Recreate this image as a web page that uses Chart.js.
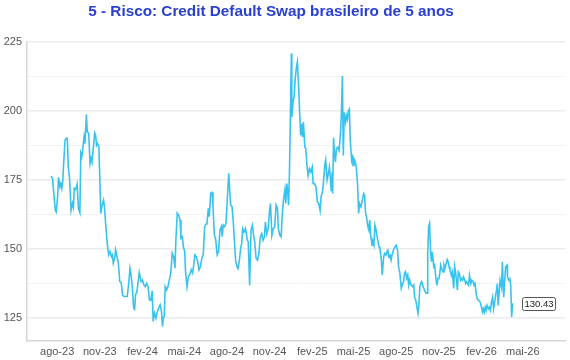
<!DOCTYPE html>
<html><head><meta charset="utf-8">
<script src="https://cdn.jsdelivr.net/npm/chart.js@4.4.1/dist/chart.umd.min.js"></script>
<style>html,body{margin:0;padding:0;background:#fff}#wrap{width:570px;height:360px;position:relative}</style>
</head><body><div id="wrap"><canvas id="c" width="570" height="360"></canvas></div>
<script>
const chartTitle = '5 - Risco: Credit Default Swap brasileiro de 5 anos';

const dates = [
'2023-07-19','2023-07-22','2023-07-28','2023-07-30','2023-08-02','2023-08-04','2023-08-07','2023-08-09','2023-08-11','2023-08-13',
'2023-08-15','2023-08-18','2023-08-21','2023-08-23','2023-08-25','2023-08-28','2023-08-31','2023-09-03','2023-09-05','2023-09-07',
'2023-09-10','2023-09-13','2023-09-16','2023-09-19','2023-09-21','2023-09-23','2023-09-25','2023-09-28','2023-09-30','2023-10-03',
'2023-10-05','2023-10-08','2023-10-11','2023-10-13','2023-10-15','2023-10-19','2023-10-21','2023-10-23','2023-10-25','2023-10-27',
'2023-10-30','2023-11-01','2023-11-03','2023-11-06','2023-11-09','2023-11-11','2023-11-14','2023-11-17','2023-11-20','2023-11-23',
'2023-11-26','2023-11-28','2023-11-30','2023-12-03','2023-12-05','2023-12-08','2023-12-11','2023-12-14','2023-12-17','2023-12-20',
'2023-12-23','2023-12-26','2023-12-30','2024-01-02','2024-01-05','2024-01-07','2024-01-10','2024-01-13','2024-01-15','2024-01-17',
'2024-01-20','2024-01-23','2024-01-25','2024-01-29','2024-02-01','2024-02-04','2024-02-07','2024-02-10','2024-02-13','2024-02-16',
'2024-02-19','2024-02-22','2024-02-24','2024-02-27','2024-03-01','2024-03-04','2024-03-07','2024-03-10','2024-03-13','2024-03-15',
'2024-03-17','2024-03-19','2024-03-21','2024-03-24','2024-03-27','2024-03-30','2024-04-02','2024-04-05','2024-04-08','2024-04-11',
'2024-04-13','2024-04-16','2024-04-19','2024-04-22','2024-04-24','2024-04-27','2024-04-29','2024-05-02','2024-05-04','2024-05-07',
'2024-05-10','2024-05-13','2024-05-16','2024-05-19','2024-05-21','2024-05-24','2024-05-27','2024-05-30','2024-06-02','2024-06-05',
'2024-06-08','2024-06-11','2024-06-14','2024-06-17','2024-06-19','2024-06-22','2024-06-24','2024-06-27','2024-06-30','2024-07-02',
'2024-07-05','2024-07-08','2024-07-11','2024-07-14','2024-07-17','2024-07-20','2024-07-22','2024-07-24','2024-07-27','2024-07-30',
'2024-08-02','2024-08-05','2024-08-06','2024-08-09','2024-08-12','2024-08-15','2024-08-18','2024-08-20','2024-08-23','2024-08-25',
'2024-08-28','2024-08-31','2024-09-02','2024-09-04','2024-09-07','2024-09-10','2024-09-12','2024-09-14','2024-09-16','2024-09-19',
'2024-09-22','2024-09-25','2024-09-28','2024-09-30','2024-10-03','2024-10-06','2024-10-09','2024-10-12','2024-10-15','2024-10-18',
'2024-10-21','2024-10-23','2024-10-26','2024-10-29','2024-11-01','2024-11-03','2024-11-06','2024-11-09','2024-11-12','2024-11-15',
'2024-11-18','2024-11-20','2024-11-23','2024-11-26','2024-11-28','2024-12-01','2024-12-04','2024-12-06','2024-12-08','2024-12-10',
'2024-12-12','2024-12-14','2024-12-16','2024-12-18','2024-12-19','2024-12-22','2024-12-24','2024-12-26','2024-12-29','2024-12-31',
'2025-01-03','2025-01-05','2025-01-07','2025-01-09','2025-01-11','2025-01-13','2025-01-16','2025-01-18','2025-01-21','2025-01-23',
'2025-01-26','2025-01-29','2025-02-01','2025-02-03','2025-02-06','2025-02-09','2025-02-12','2025-02-15','2025-02-18','2025-02-20',
'2025-02-23','2025-02-25','2025-02-28','2025-03-02','2025-03-05','2025-03-07','2025-03-10','2025-03-12','2025-03-14','2025-03-16',
'2025-03-17','2025-03-19','2025-03-21','2025-03-23','2025-03-25','2025-03-28','2025-03-31','2025-04-03','2025-04-05','2025-04-07',
'2025-04-09','2025-04-11','2025-04-14','2025-04-16','2025-04-18','2025-04-20','2025-04-22','2025-04-24','2025-04-27','2025-04-29',
'2025-04-30','2025-05-02','2025-05-04','2025-05-07','2025-05-10','2025-05-12','2025-05-14','2025-05-17','2025-05-20','2025-05-23',
'2025-05-25','2025-05-27','2025-05-29','2025-06-01','2025-06-03','2025-06-05','2025-06-07','2025-06-10','2025-06-12','2025-06-14',
'2025-06-16','2025-06-18','2025-06-21','2025-06-23','2025-06-25','2025-06-27','2025-06-30','2025-07-02','2025-07-05','2025-07-07',
'2025-07-10','2025-07-12','2025-07-14','2025-07-16','2025-07-19','2025-07-21','2025-07-23','2025-07-26','2025-07-29','2025-08-01',
'2025-08-04','2025-08-06','2025-08-09','2025-08-12','2025-08-15','2025-08-17','2025-08-19','2025-08-21','2025-08-24','2025-08-26',
'2025-08-28','2025-08-30','2025-09-02','2025-09-05','2025-09-08','2025-09-10','2025-09-12','2025-09-14','2025-09-17','2025-09-19',
'2025-09-21','2025-09-23','2025-09-25','2025-09-28','2025-10-01','2025-10-04','2025-10-07','2025-10-08','2025-10-10','2025-10-12',
'2025-10-14','2025-10-16','2025-10-18','2025-10-21','2025-10-23','2025-10-26','2025-10-28','2025-10-30','2025-11-01','2025-11-03',
'2025-11-05','2025-11-07','2025-11-10','2025-11-12','2025-11-14','2025-11-16','2025-11-19','2025-11-21','2025-11-23','2025-11-25',
'2025-11-28','2025-11-30','2025-12-03','2025-12-05','2025-12-07','2025-12-09','2025-12-11','2025-12-13','2025-12-15','2025-12-18',
'2025-12-20','2025-12-22','2025-12-24','2025-12-27','2025-12-29','2025-12-31','2026-01-02','2026-01-04','2026-01-06','2026-01-09',
'2026-01-11','2026-01-14','2026-01-16','2026-01-18','2026-01-21','2026-01-23','2026-01-26','2026-01-29','2026-02-01','2026-02-03',
'2026-02-05','2026-02-07','2026-02-09','2026-02-11','2026-02-13','2026-02-16','2026-02-18','2026-02-20','2026-02-22','2026-02-25',
'2026-02-27','2026-03-02','2026-03-04','2026-03-06','2026-03-07','2026-03-09','2026-03-11','2026-03-13','2026-03-16','2026-03-18',
'2026-03-20','2026-03-21','2026-03-23','2026-03-25','2026-03-28','2026-03-29','2026-04-01','2026-04-03','2026-04-05','2026-04-07',
'2026-04-09'
];

const cds = [
176.4,175.6,164.1,163.5,169.0,176.0,172.5,173.7,172.0,174.4,
181.0,189.4,190.2,190.0,179.8,175.0,164.1,166.5,165.1,172.0,
171.6,173.5,164.7,163.2,184.6,183.4,185.8,190.6,188.2,198.8,
192.4,192.0,181.0,182.8,181.6,188.2,192.0,191.2,187.6,188.2,
187.0,175.6,162.9,165.9,167.7,165.3,158.1,152.1,147.9,149.1,
147.3,147.9,144.9,146.7,149.7,147.3,144.9,138.2,137.9,133.4,
132.8,132.8,132.8,137.0,143.1,141.2,136.4,128.6,128.2,133.4,
134.6,138.8,141.5,138.2,138.8,137.0,136.4,137.6,136.4,131.6,
131.4,134.9,123.8,126.8,125.0,127.4,128.6,129.8,127.4,122.0,
125.0,125.6,136.4,135.2,136.4,138.9,141.3,148.5,147.3,143.1,
153.3,163.0,162.3,160.5,153.9,154.5,150.9,149.1,141.3,136.4,
140.1,140.7,142.5,141.3,143.7,147.9,147.3,145.5,142.5,143.7,
146.7,147.9,158.1,159.1,159.3,164.8,161.7,170.2,170.5,165.4,
155.1,153.3,147.9,149.1,156.9,158.1,154.5,158.7,158.1,159.3,
168.4,177.4,174.4,166.0,165.4,159.3,150.9,145.5,143.5,142.9,
146.0,150.8,152.0,157.4,156.2,157.4,155.6,153.2,152.6,136.9,
156.8,158.6,154.4,152.6,146.6,146.0,148.4,154.4,155.6,153.2,
154.4,159.8,155.6,157.4,164.0,166.5,155.0,157.4,158.0,165.9,
164.7,157.4,155.0,154.4,161.6,167.7,171.3,166.5,173.7,171.3,
165.9,178.5,199.0,220.8,197.8,203.9,205.1,211.1,216.0,217.8,
207.5,199.0,191.2,195.4,190.6,196.0,187.0,186.4,179.7,176.7,
179.1,177.9,179.7,173.7,173.7,172.5,167.1,166.5,164.0,168.9,
170.7,173.7,180.3,182.2,175.0,176.7,179.7,176.1,171.0,178.0,
170.1,190.3,184.5,181.5,186.3,186.9,185.7,192.3,200.1,212.7,
183.9,199.5,195.9,198.3,197.1,200.1,200.7,189.3,182.1,183.3,
180.3,182.7,182.1,179.7,172.5,162.9,166.5,165.3,167.7,170.1,
169.5,162.9,161.7,158.1,156.9,160.5,155.0,151.4,152.6,151.4,
158.7,157.5,154.4,152.6,150.8,150.2,146.0,140.6,147.2,148.4,
147.8,149.0,149.6,147.2,147.8,146.0,147.8,149.6,150.8,151.4,
149.6,143.6,141.2,135.8,137.6,138.2,141.2,141.8,139.4,140.6,
137.0,138.8,137.0,136.4,137.0,132.2,131.6,129.8,126.8,129.8,
136.4,137.6,138.2,136.4,135.2,134.0,134.0,148.4,158.1,159.3,
149.6,145.4,149.0,143.6,144.2,138.7,136.9,139.3,139.3,141.1,
144.2,143.0,141.7,144.2,143.0,144.2,146.2,145.4,143.6,142.4,
140.5,141.7,135.7,143.6,141.7,138.7,135.1,141.7,141.1,138.7,
139.3,138.7,139.9,138.7,137.5,138.1,137.5,136.9,140.5,137.5,
138.7,138.1,136.9,137.5,133.3,132.0,131.4,130.8,128.9,127.2,
128.4,127.2,128.9,127.8,129.6,128.4,128.9,127.8,130.2,132.6,
128.4,131.4,133.9,135.7,137.5,129.6,134.5,138.7,136.3,145.4,
135.1,132.6,138.7,143.6,144.2,139.9,138.7,139.3,136.9,125.4,
130.43
];

const xTickDates = ['2023-08-01','2023-11-01','2024-02-01','2024-05-01','2024-08-01','2024-11-01',
                    '2025-02-01','2025-05-01','2025-08-01','2025-11-01','2026-02-01','2026-05-01'];
const xTickLabels = ['ago-23','nov-23','fev-24','mai-24','ago-24','nov-24',
                     'fev-25','mai-25','ago-25','nov-25','fev-26','mai-26'];
const xRange = ['2023-05-28','2026-07-31'];
const yGridTicks = [125,137.5,150,162.5,175,187.5,200,212.5,225];
const yLabelTicks = [125,150,175,200,225];
const yRange = [116.7,225];

const points = dates.map((d,i)=>({x: Date.parse(d), y: cds[i]}));
const FONT = '"Liberation Sans", Arial, Helvetica, sans-serif';

const titlePlugin = {
  id:'titleText',
  afterDraw(chart){
    const c = chart.ctx;
    c.save();
    c.font = 'bold 15.3px ' + FONT;
    c.fillStyle = '#2a40cf';
    c.textAlign = 'center';
    c.textBaseline = 'alphabetic';
    c.fillText(chartTitle, 271, 16);
    c.restore();
  }
};

const endLabel = {
  id:'endLabel',
  afterDatasetsDraw(chart){
    const meta = chart.getDatasetMeta(0);
    const pt = meta.data[meta.data.length-1];
    const txt = cds[cds.length-1].toFixed(2);
    const c = chart.ctx;
    c.save();
    c.font = '9.5px ' + FONT;
    const w = c.measureText(txt).width + 4, h = 13;
    const x0 = Math.round(pt.x + 9) + 0.5, y0 = Math.round(pt.y - h/2) + 0.5;
    c.beginPath();
    c.roundRect(x0, y0, w, h, 2);
    c.fillStyle = '#ffffff';
    c.fill();
    c.strokeStyle = '#555';
    c.lineWidth = 1;
    c.stroke();
    c.fillStyle = '#222';
    c.textAlign = 'center';
    c.textBaseline = 'middle';
    c.fillText(txt, x0 + w/2, y0 + h/2 + 0.5);
    c.restore();
  }
};

new Chart(document.getElementById('c'), {
  type:'line',
  data:{ datasets:[{
    data: points,
    borderColor:'#38c3ee',
    borderWidth:1.6,
    pointRadius:0,
    tension:0,
    fill:false
  }]},
  options:{
    responsive:false,
    animation:false,
    devicePixelRatio:1,
    layout:{ padding:{ top:42, right:5, left:0, bottom:0 } },
    plugins:{ legend:{display:false}, tooltip:{enabled:false}, title:{display:false} },
    scales:{
      x:{
        type:'linear',
        min: Date.parse(xRange[0]),
        max: Date.parse(xRange[1]),
        afterBuildTicks: s => { s.ticks = xTickDates.map(d=>({value: Date.parse(d)})); },
        afterFit: s => { s.height = 19; },
        ticks:{
          autoSkip:false, maxRotation:0, padding:4,
          color:'#555', font:{family:FONT, size:11},
          callback:(v,i)=> xTickLabels[i]
        },
        grid:{ display:true, color:'rgba(0,0,0,0)', drawTicks:false },
        border:{ display:true, color:'#d6d6d6', width:1.5 }
      },
      y:{
        type:'linear',
        min: yRange[0], max: yRange[1],
        afterBuildTicks: s => { s.ticks = yGridTicks.map(v=>({value:v})); },
        afterFit: s => { s.width = 27; },
        ticks:{
          autoSkip:false, padding:5,
          color:'#555', font:{family:FONT, size:11},
          callback: v => yLabelTicks.includes(v) ? String(v) : ''
        },
        grid:{
          drawTicks:false,
          color: ctx => (ctx.tick && yLabelTicks.includes(ctx.tick.value)) ? '#ebebeb' : '#f3f3f3',
          lineWidth: ctx => (ctx.tick && yLabelTicks.includes(ctx.tick.value)) ? 1.5 : 1
        },
        border:{ display:true, color:'#d6d6d6', width:1.5 }
      }
    }
  },
  plugins:[titlePlugin, endLabel]
});
</script>
</body></html>
